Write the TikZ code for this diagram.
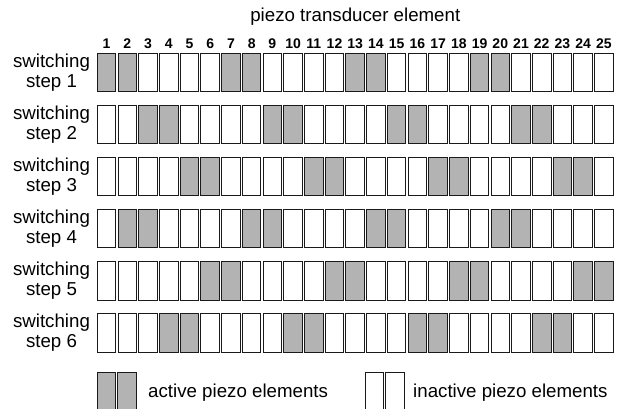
\documentclass[tikz,border=0pt]{standalone}
\usepackage{fontspec}
\setmainfont{Liberation Sans}
\definecolor{activegray}{HTML}{B3B3B3}
\definecolor{edgegray}{HTML}{1A1A1A}
\begin{document}
\begin{tikzpicture}[x=1pt,y=-1pt,
  cellbox/.style={draw=edgegray, line width=1pt, minimum width=18.55pt,
    minimum height=38.6pt, inner sep=0pt, outer sep=0pt},
  legendcell/.style={cellbox, minimum width=18.3pt},
  lbl/.style={font=\fontsize{18.7}{20}\selectfont, inner sep=0pt, anchor=base},
  num/.style={font=\fontsize{14}{16}\selectfont\bfseries, inner sep=0pt, anchor=base}]
\clip (0,0) rectangle (621,409);

% heading and element numbers
\node[lbl] (title) at (355.3,22) {piezo transducer element};
\foreach \c in {1,...,25}
  \node[num] (n\c) at ({106.6+(\c-1)*20.72},49) {\c};

% six switching steps, each with its first active pair
\foreach \r/\s in {1/1,2/3,3/5,4/2,5/6,6/4}{
  \pgfmathsetmacro\rowtop{52.7+(\r-1)*52.06}
  \node[lbl] (sw\r) at (51.5,\rowtop+14.5) {switching};
  \node[lbl] (st\r) at (51.5,\rowtop+34.5) {step \r};
  \foreach \c in {1,...,25}{
    \pgfmathtruncatemacro\d{\c-\s}
    \pgfmathtruncatemacro\k{mod(\d+60,6)}
    \def\cellfill{white}
    \ifnum\d>-1 \ifnum\d<24 \ifnum\k<2 \def\cellfill{activegray}\fi\fi\fi
    \node[cellbox, fill=\cellfill] (e\r-\c)
      at ({106.6+(\c-1)*20.72},\rowtop+19.8) {};
  }
}

% legend
\node[legendcell, fill=activegray] (act1) at (106.8,391.8) {};
\node[legendcell, fill=activegray] (act2) at (127.0,391.8) {};
\node[lbl, anchor=base west] (actlbl) at (148,397) {active piezo elements};
\node[legendcell, fill=white] (ina1) at (374.8,391.8) {};
\node[legendcell, fill=white] (ina2) at (395.0,391.8) {};
\node[lbl, anchor=base west] (inalbl) at (413,397) {inactive piezo elements};
\end{tikzpicture}
\end{document}
